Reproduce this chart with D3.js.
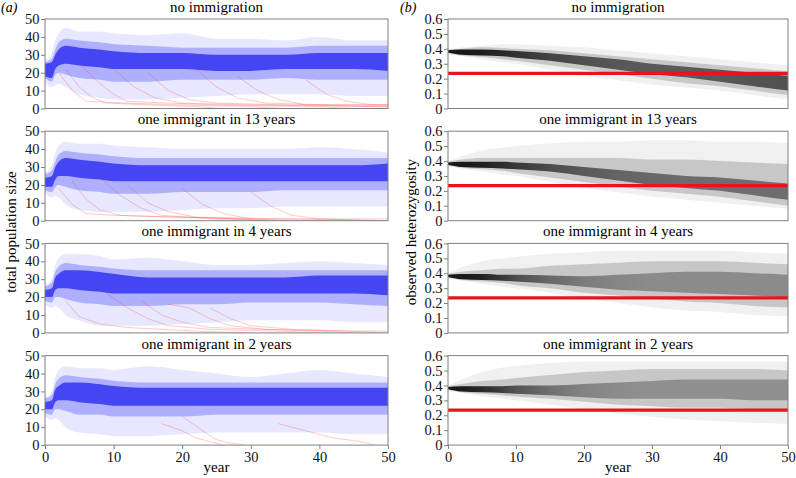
<!DOCTYPE html>
<html>
<head>
<meta charset="utf-8">
<script src="https://cdn.jsdelivr.net/npm/d3@7"></script>
<style>
  body { margin: 0; background: #fff; }
  svg, text { font-family: "Liberation Serif", "DejaVu Serif", "Times New Roman", Times, serif; }
</style>
</head>
<body>
<div id="chart"></div>
<script>
var W = 796, H = 478;
var serif = "'Liberation Serif', 'DejaVu Serif', 'Times New Roman', Times, serif";

// panel titles (same for both columns)
var titles = ["no immigration", "one immigrant in 13 years", "one immigrant in 4 years", "one immigrant in 2 years"];

// ---- (a) total population size: envelopes ----
var popYears = [0, 1, 1.5, 2, 3, 5, 8, 10, 15, 20, 25, 30, 35, 40, 45, 50];
var popFaintHi = [
  [27, 31, 38, 42, 45, 43, 43, 42, 41, 42, 39, 39, 38, 40, 38, 38],
  [27, 31, 38, 42, 44, 43, 43, 42, 41, 40, 40, 40, 40, 41, 40, 38],
  [27, 30, 38, 42, 44, 44, 43, 41, 42, 40, 38, 38, 39, 40, 39, 38],
  [27, 30, 38, 42, 44, 43, 43, 42, 44, 42, 40, 38, 40, 42, 40, 38]
];
var popMidHi = [
  [26, 28, 33, 37, 39, 38, 37, 36, 35, 34, 34, 34, 34, 35, 35, 35],
  [26, 28, 33, 37, 39, 38, 37, 36, 35, 35, 35, 35, 35, 35, 35, 35],
  [26, 28, 34, 37, 39, 38, 37, 36, 35, 35, 35, 35, 35, 35, 35, 35],
  [26, 28, 34, 37, 39, 38, 37, 36, 35, 35, 35, 35, 35, 35, 35, 35]
];
var popCoreHi = [
  [25, 26, 30, 33, 35, 34, 33, 32, 31, 31, 30, 30, 30, 31, 31, 31],
  [24, 25, 30, 33, 35, 34, 33, 32, 31, 31, 31, 31, 31, 31, 31, 32],
  [24, 25, 31, 33, 35, 35, 34, 33, 31, 31, 31, 31, 31, 32, 32, 32],
  [24, 25, 31, 33, 35, 35, 34, 33, 32, 32, 32, 32, 32, 32, 32, 32]
];
var popCoreLo = [
  [18, 17, 22, 24, 25, 24, 23, 22, 22, 22, 21, 21, 22, 22, 22, 21],
  [19, 19, 23, 25, 25, 24, 23, 22, 22, 22, 22, 22, 22, 22, 22, 22],
  [20, 20, 24, 25, 25, 24, 23, 22, 22, 22, 22, 22, 22, 22, 22, 21],
  [20, 20, 24, 25, 25, 24, 23, 22, 22, 22, 22, 22, 22, 22, 22, 22]
];
var popMidLo = [
  [17, 15, 19, 20, 19, 17, 16, 15, 15, 16, 16, 16, 17, 16, 16, 16],
  [17, 16, 19, 20, 19, 17, 16, 15, 15, 16, 16, 16, 17, 17, 17, 17],
  [18, 17, 20, 20, 19, 17, 16, 15, 15, 16, 16, 17, 17, 17, 16, 15],
  [18, 17, 20, 20, 19, 17, 17, 16, 16, 16, 17, 17, 17, 17, 17, 17]
];
var popFaintLo = [
  [15, 12, 13, 14, 12, 8, 6, 5, 5, 6, 7, 8, 8, 8, 7, 7],
  [15, 13, 14, 13, 9, 6, 5, 5, 5, 6, 7, 7, 8, 8, 8, 8],
  [16, 14, 15, 14, 10, 7, 4, 4, 4, 5, 6, 7, 7, 7, 6, 6],
  [16, 14, 15, 14, 10, 7, 6, 5, 5, 6, 7, 7, 7, 7, 6, 6]
];
// extinct runs (red), as [year, size] points
var extinctRuns = [
  [
    [[2, 20], [4, 10], [6, 4], [12, 3], [20, 2], [30, 1], [35, 0]],
    [[3, 22], [5, 12], [7, 6], [9, 3], [15, 2], [22, 1], [26, 0]],
    [[5, 25], [8, 14], [10, 8], [12, 4], [18, 3], [25, 2], [40, 1], [45, 0]],
    [[10, 22], [13, 12], [16, 6], [20, 3], [30, 2], [48, 1], [50, 1]],
    [[15, 20], [18, 10], [21, 5], [25, 3], [35, 2], [50, 2]],
    [[22, 22], [25, 12], [28, 6], [32, 3], [42, 2], [50, 2]],
    [[28, 18], [31, 10], [34, 5], [38, 2], [50, 1]],
    [[38, 16], [41, 8], [44, 4], [48, 2], [50, 2]]
  ],
  [
    [[2, 18], [4, 9], [6, 4], [10, 3], [20, 2], [28, 1], [32, 0]],
    [[4, 22], [6, 12], [8, 6], [11, 3], [18, 2], [30, 1], [50, 1]],
    [[8, 24], [11, 14], [14, 7], [17, 3], [25, 1], [34, 0]],
    [[12, 20], [15, 10], [18, 5], [22, 2], [35, 1], [50, 0]],
    [[20, 18], [23, 9], [26, 4], [30, 1], [36, 0]],
    [[30, 16], [33, 8], [36, 3], [40, 1], [50, 0]]
  ],
  [
    [[3, 18], [5, 9], [8, 5], [12, 3], [22, 1], [30, 0]],
    [[9, 22], [12, 14], [15, 8], [18, 4], [24, 2], [34, 1], [40, 0]],
    [[14, 18], [17, 10], [20, 6], [24, 3], [32, 2], [44, 1], [50, 0]],
    [[18, 16], [21, 14], [24, 8], [27, 4], [32, 2], [40, 1], [45, 0]],
    [[24, 14], [27, 8], [30, 4], [36, 2], [45, 1], [50, 1]]
  ],
  [
    [[17, 12], [20, 8], [22, 4], [24, 2], [26, 0]],
    [[20, 16], [23, 8], [25, 3], [27, 1], [29, 0]],
    [[34, 12], [38, 8], [42, 4], [46, 2], [48, 0]]
  ]
];

// ---- (b) observed heterozygosity envelopes ----
var hetYears = [0, 2, 5, 8, 10, 15, 20, 25, 30, 35, 40, 45, 50];
var hetFaintHi = [
  [0.40, 0.41, 0.42, 0.43, 0.43, 0.42, 0.41, 0.39, 0.37, 0.35, 0.33, 0.31, 0.29],
  [0.40, 0.43, 0.47, 0.49, 0.50, 0.52, 0.53, 0.53, 0.54, 0.54, 0.53, 0.53, 0.52],
  [0.40, 0.44, 0.48, 0.50, 0.51, 0.53, 0.54, 0.55, 0.55, 0.55, 0.55, 0.54, 0.53],
  [0.40, 0.44, 0.49, 0.52, 0.53, 0.55, 0.56, 0.56, 0.56, 0.56, 0.56, 0.56, 0.56]
];
var hetMidHi = [
  [0.395, 0.40, 0.41, 0.405, 0.40, 0.39, 0.37, 0.35, 0.33, 0.31, 0.29, 0.27, 0.25],
  [0.395, 0.41, 0.42, 0.42, 0.42, 0.42, 0.42, 0.42, 0.41, 0.41, 0.40, 0.39, 0.38],
  [0.395, 0.41, 0.42, 0.43, 0.43, 0.45, 0.46, 0.47, 0.48, 0.48, 0.48, 0.47, 0.46],
  [0.395, 0.41, 0.43, 0.44, 0.45, 0.47, 0.49, 0.50, 0.51, 0.51, 0.51, 0.51, 0.50]
];
var hetCoreHi = [
  [0.39, 0.395, 0.395, 0.39, 0.385, 0.37, 0.35, 0.33, 0.30, 0.28, 0.26, 0.24, 0.22],
  [0.39, 0.395, 0.395, 0.395, 0.39, 0.38, 0.36, 0.34, 0.32, 0.30, 0.29, 0.27, 0.25],
  [0.39, 0.395, 0.395, 0.39, 0.39, 0.385, 0.38, 0.39, 0.40, 0.41, 0.41, 0.40, 0.39],
  [0.39, 0.395, 0.395, 0.395, 0.40, 0.40, 0.41, 0.42, 0.43, 0.44, 0.44, 0.44, 0.44]
];
var hetCoreLo = [
  [0.375, 0.36, 0.355, 0.35, 0.34, 0.32, 0.29, 0.26, 0.23, 0.21, 0.18, 0.15, 0.12],
  [0.375, 0.36, 0.355, 0.35, 0.345, 0.33, 0.30, 0.27, 0.24, 0.22, 0.20, 0.17, 0.14],
  [0.375, 0.36, 0.355, 0.35, 0.345, 0.33, 0.31, 0.29, 0.28, 0.27, 0.26, 0.25, 0.24],
  [0.375, 0.36, 0.355, 0.35, 0.345, 0.335, 0.32, 0.31, 0.31, 0.31, 0.31, 0.30, 0.30]
];
var hetMidLo = [
  [0.37, 0.355, 0.345, 0.33, 0.32, 0.29, 0.26, 0.23, 0.20, 0.17, 0.15, 0.12, 0.09],
  [0.37, 0.355, 0.345, 0.335, 0.32, 0.29, 0.26, 0.23, 0.20, 0.18, 0.16, 0.13, 0.10],
  [0.37, 0.355, 0.345, 0.335, 0.32, 0.30, 0.27, 0.25, 0.23, 0.21, 0.20, 0.18, 0.17],
  [0.37, 0.355, 0.345, 0.335, 0.325, 0.31, 0.29, 0.27, 0.26, 0.25, 0.25, 0.24, 0.24]
];
var hetFaintLo = [
  [0.365, 0.35, 0.33, 0.31, 0.30, 0.26, 0.22, 0.19, 0.16, 0.14, 0.12, 0.09, 0.06],
  [0.365, 0.35, 0.33, 0.31, 0.30, 0.26, 0.22, 0.19, 0.16, 0.14, 0.12, 0.10, 0.08],
  [0.365, 0.35, 0.33, 0.31, 0.30, 0.27, 0.23, 0.20, 0.17, 0.15, 0.14, 0.12, 0.11],
  [0.365, 0.35, 0.33, 0.31, 0.30, 0.27, 0.24, 0.21, 0.19, 0.17, 0.16, 0.15, 0.14]
];
// how dark the core of the bundle looks at each year (0..1)
var hetCoreDensity = [
  [0.88, 0.88, 0.85, 0.8, 0.75, 0.66, 0.6, 0.56, 0.55, 0.55, 0.56, 0.58, 0.6],
  [0.88, 0.88, 0.85, 0.78, 0.72, 0.62, 0.55, 0.5, 0.48, 0.46, 0.45, 0.45, 0.45],
  [0.88, 0.88, 0.82, 0.72, 0.62, 0.48, 0.38, 0.33, 0.3, 0.3, 0.3, 0.3, 0.3],
  [0.88, 0.88, 0.8, 0.68, 0.58, 0.44, 0.34, 0.3, 0.28, 0.28, 0.28, 0.28, 0.28]
];
var hetReference = 0.235;

var popTicks = [0, 10, 20, 30, 40, 50];
var hetTicks = [0, 0.1, 0.2, 0.3, 0.4, 0.5, 0.6];
var yearTicks = [0, 10, 20, 30, 40, 50];

// layout
var cols = [{x0: 45, x1: 388}, {x0: 448, x1: 788}];
var panelTop = 19, panelH = 89.5, panelStep = 112.2;

var svg = d3.select("#chart").append("svg")
    .attr("width", W).attr("height", H)
    .attr("font-family", serif);
var defs = svg.append("defs");

function bandData(years, hi, lo) {
    return years.map(function (y, i) { return {x: y, hi: hi[i], lo: lo[i]}; });
}

function drawPanel(col, row) {
    var c = cols[col];
    var top = panelTop + row * panelStep;
    var x = d3.scaleLinear().domain([0, 50]).range([c.x0, c.x1]);
    var y = col == 0
        ? d3.scaleLinear().domain([0, 50]).range([top + panelH, top])
        : d3.scaleLinear().domain([0, 0.6]).range([top + panelH, top]);

    var clipId = "clip" + col + row;
    defs.append("clipPath").attr("id", clipId)
        .append("rect")
        .attr("x", c.x0).attr("y", top)
        .attr("width", c.x1 - c.x0).attr("height", panelH);

    var g = svg.append("g").attr("clip-path", "url(#" + clipId + ")");

    var area = d3.area()
        .x(function (d) { return x(d.x); })
        .y0(function (d) { return y(d.lo); })
        .y1(function (d) { return y(d.hi); })
        .curve(d3.curveMonotoneX);

    var bands, fills, ops;
    if (col == 0) {
        bands = [
            bandData(popYears, popFaintHi[row], popFaintLo[row]),
            bandData(popYears, popMidHi[row], popMidLo[row]),
            bandData(popYears, popCoreHi[row], popCoreLo[row])
        ];
        fills = ["#2020ff", "#2020ff", "#1c1cf0"];
        ops = [0.11, 0.28, 0.72];
    } else {
        // core fill follows the density read at each year
        var gradId = "core" + row;
        var grad = defs.append("linearGradient").attr("id", gradId)
            .attr("gradientUnits", "userSpaceOnUse")
            .attr("x1", c.x0).attr("x2", c.x1)
            .attr("y1", 0).attr("y2", 0);
        grad.selectAll("stop")
            .data(hetYears)
            .enter()
            .append("stop")
            .attr("offset", function (d) { return (x(d) - c.x0) / (c.x1 - c.x0); })
            .attr("stop-color", "#000")
            .attr("stop-opacity", function (d, i) { return hetCoreDensity[row][i]; });
        bands = [
            bandData(hetYears, hetFaintHi[row], hetFaintLo[row]),
            bandData(hetYears, hetMidHi[row], hetMidLo[row]),
            bandData(hetYears, hetCoreHi[row], hetCoreLo[row])
        ];
        fills = ["#000", "#000", "url(#" + gradId + ")"];
        ops = [0.06, 0.17, 1];
    }

    g.selectAll("path.band")
        .data(bands)
        .enter()
        .append("path")
        .attr("class", "band")
        .attr("d", area)
        .style("fill", function (d, i) { return fills[i]; })
        .style("fill-opacity", function (d, i) { return ops[i]; });

    if (col == 0) {
        var line = d3.line()
            .x(function (d) { return x(d[0]); })
            .y(function (d) { return y(d[1]); })
            .curve(d3.curveLinear);
        g.selectAll("path.extinct")
            .data(extinctRuns[row])
            .enter()
            .append("path")
            .attr("class", "extinct")
            .attr("d", line)
            .style("fill", "none")
            .style("stroke", "#ff2020")
            .style("stroke-opacity", 0.35)
            .style("stroke-width", 0.7);
    } else {
        g.append("line")
            .attr("x1", c.x0).attr("x2", c.x1)
            .attr("y1", y(hetReference)).attr("y2", y(hetReference))
            .style("stroke", "#e8141c")
            .style("stroke-width", 3.2);
    }

    // frame
    svg.append("rect")
        .attr("x", c.x0).attr("y", top)
        .attr("width", c.x1 - c.x0).attr("height", panelH)
        .style("fill", "none")
        .style("stroke", "#808080")
        .style("stroke-width", 1);

    // y axis
    var yAxis = d3.axisLeft(y)
        .tickValues(col == 0 ? popTicks : hetTicks)
        .tickSize(4)
        .tickPadding(1.5)
        .tickFormat(col == 0 ? d3.format("d") : function (d) { return d == 0 ? "0" : d3.format(".1f")(d); });
    var ga = svg.append("g")
        .attr("transform", "translate(" + c.x0 + ",0)")
        .call(yAxis);
    ga.attr("font-family", serif);
    ga.select(".domain").remove();
    ga.selectAll("line").style("stroke", "#808080");
    ga.selectAll("text")
        .style("font-family", serif)
        .style("font-size", "14.5px")
        .style("fill", "#111");

    // x axis on the bottom row only
    if (row == 3) {
        var xAxis = d3.axisBottom(x)
            .tickValues(yearTicks)
            .tickSize(4)
            .tickPadding(2.5)
            .tickFormat(d3.format("d"));
        var gx = svg.append("g")
            .attr("transform", "translate(0," + (top + panelH) + ")")
            .call(xAxis);
        gx.attr("font-family", serif);
        gx.select(".domain").remove();
        gx.selectAll("line").style("stroke", "#808080");
        gx.selectAll("text")
            .style("font-family", serif)
            .style("font-size", "14.5px")
            .style("fill", "#111");

        svg.append("text")
            .attr("x", (c.x0 + c.x1) / 2)
            .attr("y", top + panelH + 27)
            .attr("text-anchor", "middle")
            .style("font-family", serif)
            .style("font-size", "15px")
            .text("year");
    }

    // title
    svg.append("text")
        .attr("x", (c.x0 + c.x1) / 2)
        .attr("y", top - 7)
        .attr("text-anchor", "middle")
        .style("font-family", serif)
        .style("font-size", "15px")
        .text(titles[row]);
}

for (var col = 0; col < 2; col++) {
    for (var row = 0; row < 4; row++) {
        drawPanel(col, row);
    }
}

// panel letters
svg.append("text").attr("x", 1).attr("y", 12)
    .style("font-family", serif)
    .style("font-size", "14px").style("font-style", "italic").text("(a)");
svg.append("text").attr("x", 400).attr("y", 12)
    .style("font-family", serif)
    .style("font-size", "14px").style("font-style", "italic").text("(b)");

// y axis labels
var midY = panelTop + (3 * panelStep + panelH) / 2;
svg.append("text")
    .attr("transform", "translate(16," + midY + ") rotate(-90)")
    .attr("text-anchor", "middle")
    .style("font-family", serif)
    .style("font-size", "15px")
    .text("total population size");
svg.append("text")
    .attr("transform", "translate(416," + midY + ") rotate(-90)")
    .attr("text-anchor", "middle")
    .style("font-family", serif)
    .style("font-size", "15px")
    .text("observed heterozygosity");
</script>
</body>
</html>
